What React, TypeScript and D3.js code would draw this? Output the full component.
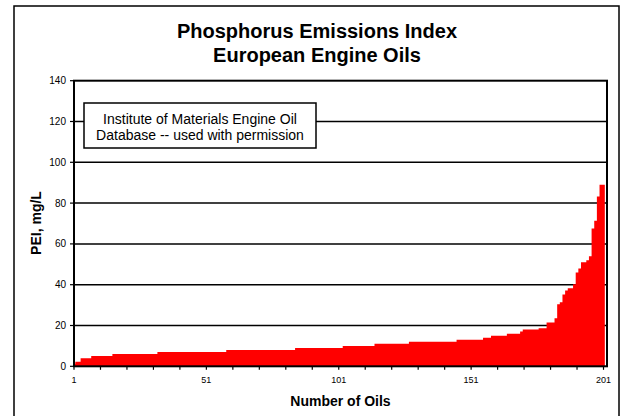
import React from 'react';
import * as d3 from 'd3';

const titleLines = ['Phosphorus Emissions Index', 'European Engine Oils'];
const noteLines = ['Institute of Materials Engine Oil', 'Database -- used with permission'];
const yTicks = [0, 20, 40, 60, 80, 100, 120, 140];
const xLabelTicks = [1, 51, 101, 151, 201];
const xMinorTicks = [1, 11, 21, 31, 41, 51, 61, 71, 81, 91, 101, 111, 121, 131, 141, 151, 161, 171, 181, 191, 201];
const xTitle = 'Number of Oils';
const yTitle = 'PEI, mg/L';

// PEI (mg/L) for 201 oils, sorted ascending
const pei = [
  1.3, 2.2, 2.2, 4, 4, 4, 4, 5, 5, 5,
  5, 5, 5, 5, 5, 6, 6, 6, 6, 6,
  6, 6, 6, 6, 6, 6, 6, 6, 6, 6,
  6, 6, 7, 7, 7, 7, 7, 7, 7, 7,
  7, 7, 7, 7, 7, 7, 7, 7, 7, 7,
  7, 7, 7, 7, 7, 7, 7, 7, 8, 8,
  8, 8, 8, 8, 8, 8, 8, 8, 8, 8,
  8, 8, 8, 8, 8, 8, 8, 8, 8, 8,
  8, 8, 8, 8, 9, 9, 9, 9, 9, 9,
  9, 9, 9, 9, 9, 9, 9, 9, 9, 9,
  9, 9, 10, 10, 10, 10, 10, 10, 10, 10,
  10, 10, 10, 10, 11, 11, 11, 11, 11, 11,
  11, 11, 11, 11, 11, 11, 11, 12, 12, 12,
  12, 12, 12, 12, 12, 12, 12, 12, 12, 12,
  12, 12, 12, 12, 12, 13, 13, 13, 13, 13,
  13, 13, 13, 13, 13, 14, 14, 14, 15, 15,
  15, 15, 15, 15, 16, 16, 16, 16, 16, 17,
  18, 18, 18, 18, 18, 18, 18.7, 18.7, 18.7, 21.5,
  21.5, 21.5, 23.5, 30.4, 31.4, 35.2, 37.2, 38.2, 38.2, 40.2,
  46, 48, 51, 51, 52, 54, 67.5, 71.4, 83.2, 89,
  89,
];

const FONT = 'Arial, "Liberation Sans", Helvetica, sans-serif';

export default function App() {
  const W = 626;
  const H = 416;
  const plotLeft = 74;
  const plotRight = 607;
  const plotTop = 80.7;
  const plotBottom = 366.3;

  const x = d3.scaleLinear().domain([1, 201]).range([74, 603.5]);
  const y = d3.scaleLinear().domain([0, 140]).range([plotBottom, plotTop]);
  const bw = x(2) - x(1);

  // step outline of the columns: each bar spans [center - bw/2, center + bw/2]
  const stepPts: [number, number][] = pei.map((v, i) => [x(i + 1) - bw / 2, v]);
  stepPts.push([x(pei.length) + bw / 2, pei[pei.length - 1]]);
  const barsPath = d3
    .area<[number, number]>()
    .x((d) => d[0])
    .y0(plotBottom)
    .y1((d) => y(d[1]))
    .curve(d3.curveStepAfter)(stepPts) as string;

  return (
    <svg
      width={W}
      height={H}
      style={{ position: 'absolute', left: 0, top: 0, background: '#fff' }}
      fontFamily={FONT}
    >
      <defs>
        <clipPath id="plotClip">
          <rect x={plotLeft} y={plotTop} width={plotRight - plotLeft} height={plotBottom - plotTop} />
        </clipPath>
      </defs>
      <rect x={0} y={0} width={W} height={H} fill="#fff" />
      {/* outer frame */}
      <rect x={14} y={6} width={605} height={430} fill="none" stroke="#000" strokeWidth={1.5} />

      {/* title */}
      {titleLines.map((t, i) => (
        <text key={t} x={317} y={38 + i * 23.5} textAnchor="middle" fontSize={20} fontWeight="bold" fill="#000">
          {t}
        </text>
      ))}

      {/* gridlines */}
      {yTicks.filter((v) => v > 0 && v < 140).map((v) => (
        <line key={v} x1={plotLeft} x2={plotRight} y1={y(v)} y2={y(v)} stroke="#000" strokeWidth={1.5} />
      ))}

      {/* bars */}
      <g clipPath="url(#plotClip)">
        <path d={barsPath} fill="#ff0000" stroke="none" />
      </g>

      {/* plot frame */}
      <rect
        x={plotLeft}
        y={plotTop}
        width={plotRight - plotLeft}
        height={plotBottom - plotTop}
        fill="none"
        stroke="#000"
        strokeWidth={2}
      />

      {/* y ticks & labels */}
      {yTicks.map((v) => (
        <g key={v}>
          <line x1={plotLeft - 4} x2={plotLeft} y1={y(v)} y2={y(v)} stroke="#000" strokeWidth={1.2} />
          <text x={66} y={y(v) + 3.5} textAnchor="end" fontSize={10} fill="#000">
            {v}
          </text>
        </g>
      ))}

      {/* x ticks & labels */}
      {xMinorTicks.map((t) => (
        <line key={t} x1={x(t)} x2={x(t)} y1={plotBottom} y2={plotBottom + 3.5} stroke="#000" strokeWidth={1.2} />
      ))}
      {xLabelTicks.map((t) => (
        <text key={t} x={x(t)} y={383} textAnchor="middle" fontSize={9} fill="#000">
          {t}
        </text>
      ))}

      {/* axis titles */}
      <text x={340.5} y={406} textAnchor="middle" fontSize={14} fontWeight="bold" fill="#000">
        {xTitle}
      </text>
      <text
        transform={`translate(41,223) rotate(-90)`}
        textAnchor="middle"
        fontSize={14}
        fontWeight="bold"
        fill="#000"
      >
        {yTitle}
      </text>

      {/* note box */}
      <rect x={84} y={103} width={232} height={45} fill="#fff" stroke="#000" strokeWidth={1.5} />
      {noteLines.map((t, i) => (
        <text key={t} x={200} y={124 + i * 16} textAnchor="middle" fontSize={14} fill="#000">
          {t}
        </text>
      ))}
    </svg>
  );
}
